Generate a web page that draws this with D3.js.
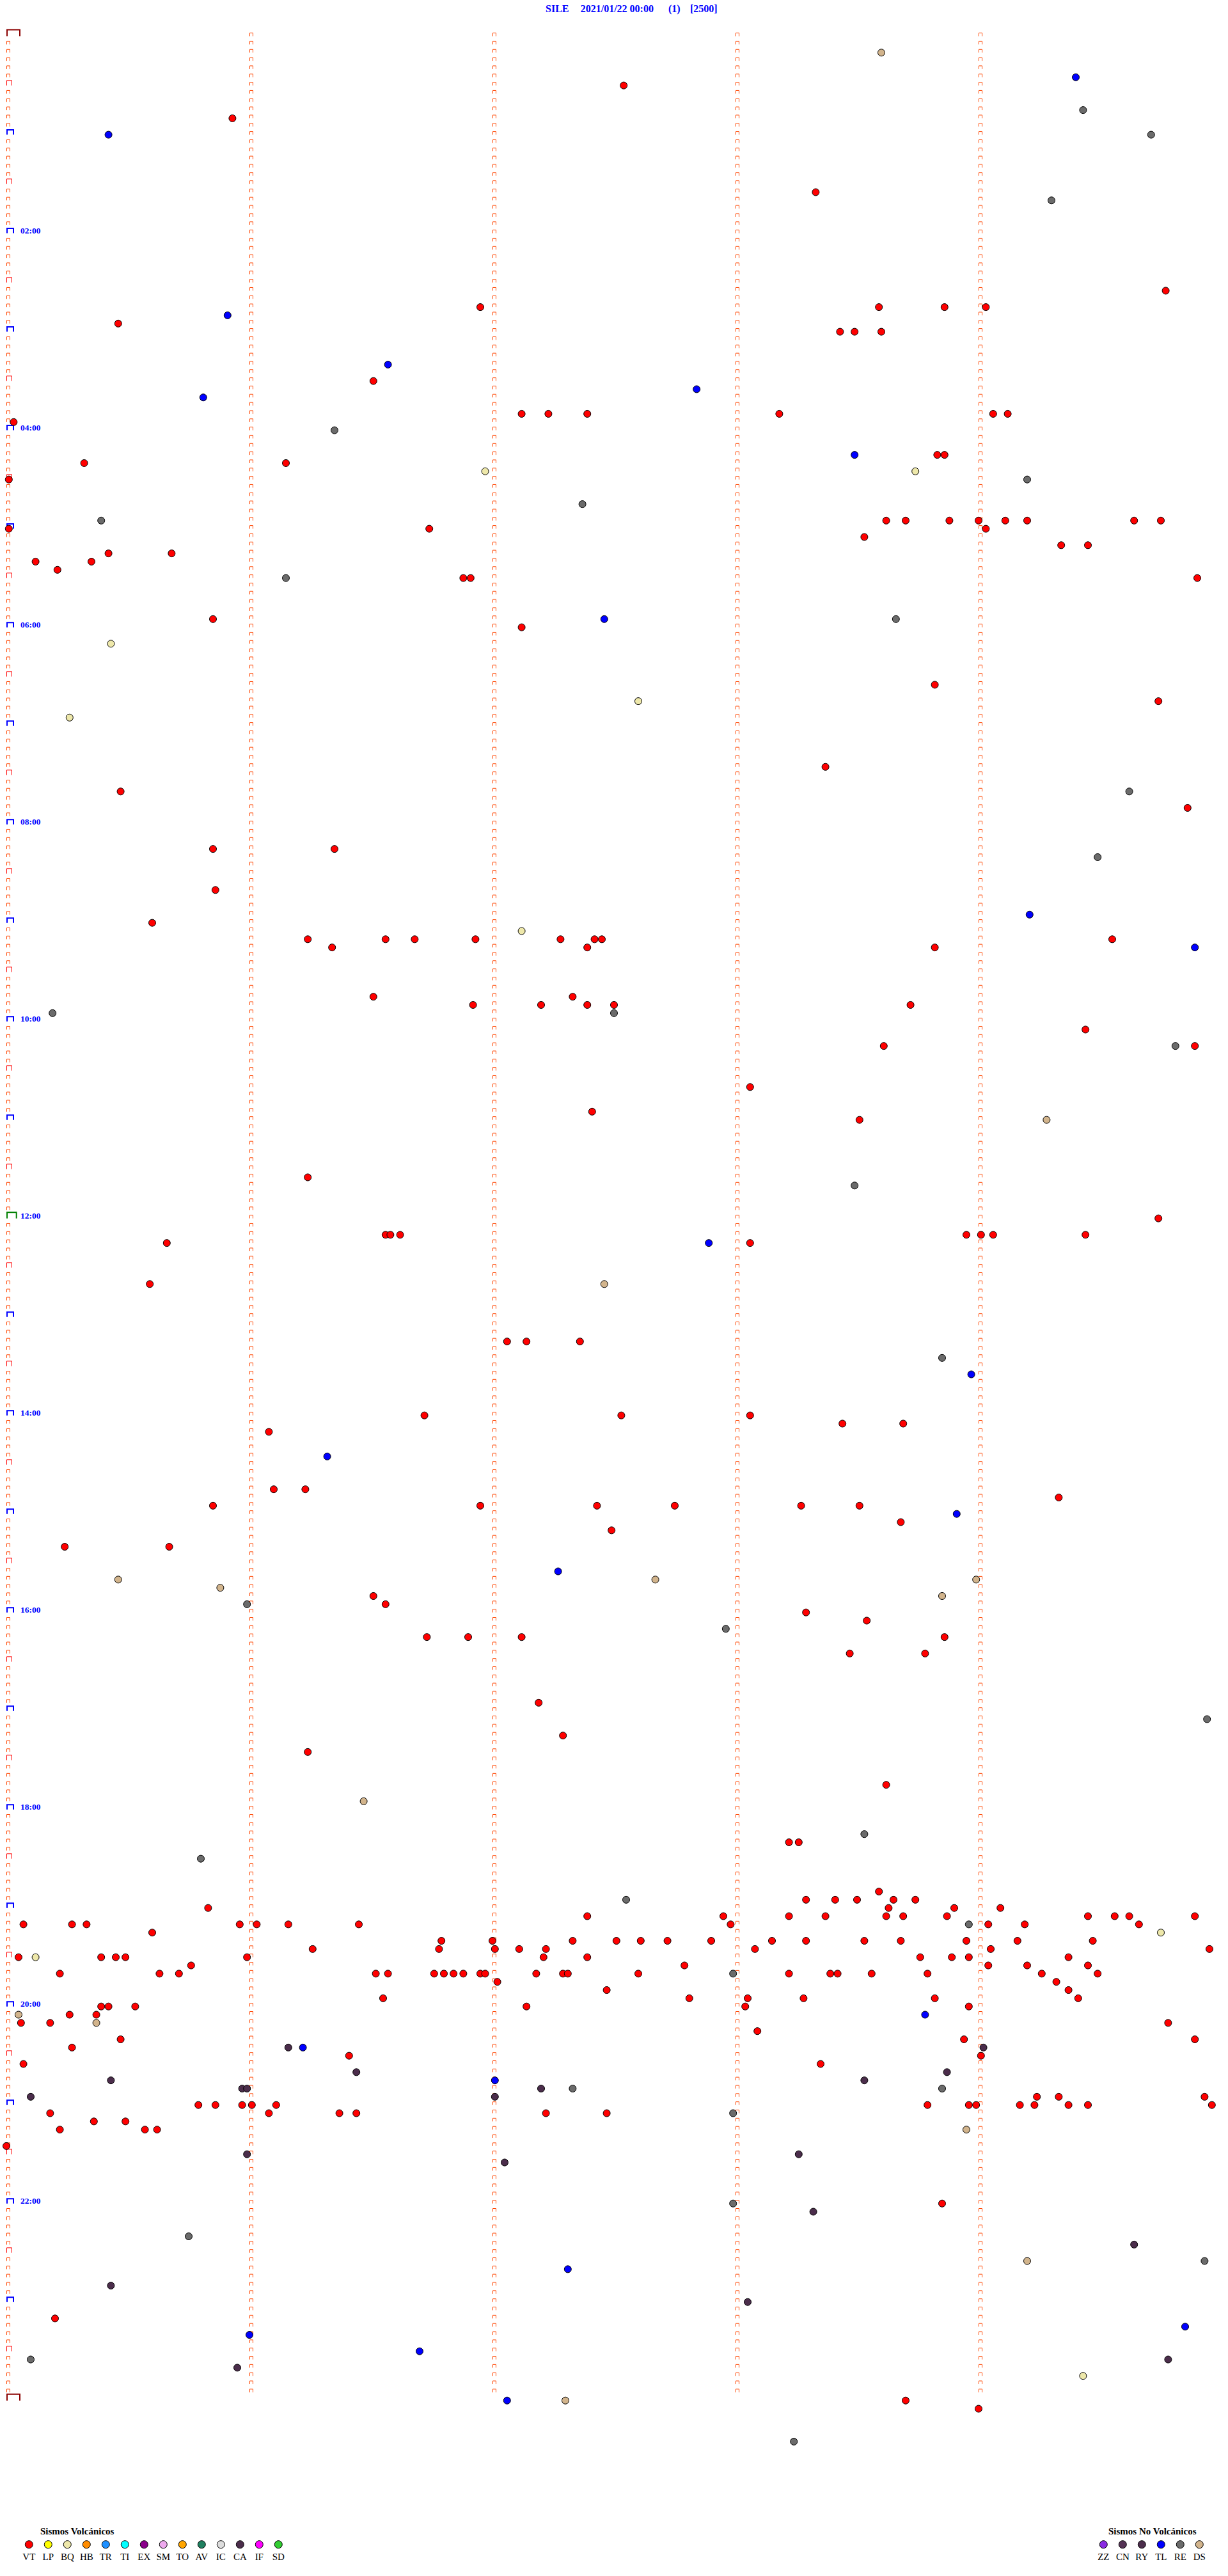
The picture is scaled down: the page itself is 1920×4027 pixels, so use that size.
<!DOCTYPE html>
<html>
<head>
<meta charset="utf-8">
<script src="https://cdn.jsdelivr.net/npm/d3@7"></script>
<style>
html,body{margin:0;padding:0;background:#fff;}
svg{display:block;}
</style>
</head>
<body>
<svg id="chart" width="1920" height="4027"></svg>
<script>
// ---------------- DATA ----------------
const stationTitle = ["SILE", "2021/01/22 00:00", "(1)", "[2500]"];
const rowMinutes = 5;          // minutes per helicorder line
const totalRows = 288;         // 24 h
const hourLabels = ["02:00","04:00","06:00","08:00","10:00","12:00","14:00","16:00","18:00","20:00","22:00"];

// event times, minutes after 00:00
const vtTimes = [32.54,50.93,98.33,159.77,166.95,168.59,168.86,169.03,175.46,183.43,183.49,183.60,211.51,232.12,232.23,232.39,233.18,234.06,234.12,235.03,258.83,258.86,260.32,261.15,270.01,298.62,298.70,298.88,299.00,299.11,299.20,299.64,299.75,300.01,301.74,304.03,308.53,314.34,314.45,315.42,315.68,320.12,320.35,325.21,331.88,331.91,334.90,355.85,362.12,398.82,409.74,448.37,460.47,474.86,495.85,496.35,520.86,540.60,551.24,551.56,551.68,551.93,552.28,552.42,552.45,554.55,556.34,557.39,558.82,586.51,587.33,591.92,592.20,592.39,592.50,593.72,609.44,618.61,619.89,643.06,657.41,663.51,696.24,724.74,731.56,731.58,731.62,733.95,734.01,734.06,734.44,735.66,738.06,760.59,797.06,797.14,797.36,841.72,842.53,843.06,848.44,848.69,851.08,886.10,886.23,894.33,895.85,896.95,897.43,897.75,898.27,898.51,908.68,912.49,920.24,920.67,951.51,956.56,963.29,968.54,976.73,976.90,977.12,978.86,988.47,988.78,1017.19,1037.29,1046.24,1068.62,1103.22,1103.26,1133.59,
1138.29,1138.41,1138.50,1138.65,1138.74,1140.83,1143.63,1143.90,1144.09,1147.39,1147.95,1148.22,1148.37,1148.62,1148.69,1148.87,1149.45,1149.56,1149.62,1149.89,1150.07,1150.27,1150.33,1150.96,1151.03,1151.16,1151.45,1152.98,1154.04,1154.19,1154.66,1155.60,1161.79,1162.00,1162.33,1162.51,1162.61,1162.72,1162.90,1163.15,1163.29,1163.53,1163.68,1163.95,1164.16,1164.47,1166.26,1166.78,1167.01,1167.11,1167.22,1168.08,1169.05,1169.95,1170.05,1170.39,1170.45,1170.49,1170.99,1172.21,1172.39,1173.76,1173.89,1173.96,1174.37,1175.76,1177.79,1179.04,1179.20,1179.45,1180.22,1180.63,1180.71,1181.52,1181.57,1181.76,1181.80,1181.84,1181.88,1181.95,1181.97,1182.18,1182.29,1182.31,1182.60,1183.22,1183.39,1183.42,1183.56,1183.79,1184.26,1184.49,1187.02,1189.32,1192.47,1194.37,1196.55,1197.81,1198.05,1198.28,1198.82,1199.41,1200.39,1200.42,1200.53,1202.14,1203.04,1203.96,1205.26,1205.37,1210.06,1210.18,1214.78,1218.09,1220.47,1223.94,1224.89,1225.27,1231.41,1234.01,1235.07,1238.35,1259.24,1259.33,1259.93,1260.79,1260.86,1260.97,1261.01,1261.11,1263.79,1263.96,1263.99,1264.17,1264.23,1264.37,1264.45,1264.96,1265.18,1266.08,1266.37,1266.44,1267.22,1267.47,1270.36,1270.49,1275.22,1275.57,1275.62,1285.00,1323.85,1390.20,1443.70,1449.00];
const tlTimes = [29.40,60.42,170.91,201.57,217.84,220.81,258.49,357.46,539.21,559.89,737.89,818.97,866.32,903.91,937.27,1208.78,1226.22,1247.01,1362.31,1399.85,1401.00,1411.70,1442.06];
const reTimes = [49.43,64.71,104.30,241.35,274.20,287.37,295.39,331.15,358.66,464.62,504.49,595.19,597.50,619.81,703.49,808.85,955.99,972.96,1029.94,1098.53,1110.80,1137.55,1153.96,1182.99,1252.33,1253.85,1267.99,1322.99,1340.75,1359.93,1415.10,1468.24];
const dsTimes = [13.60,664.28,762.46,940.46,942.67,943.99,945.88,953.85,1076.47,1205.05,1210.37,1278.95,1359.20,1442.30];
const bqTimes = [266.97,268.74,370.43,407.60,415.26,547.12,1159.75,1170.12,1429.43];
const caTimes = [1226.16,1229.02,1241.44,1243.87,1245.43,1248.53,1250.97,1250.99,1252.20,1255.10,1257.01,1290.99,1293.26,1297.05,1328.32,1349.64,1370.43,1383.05,1419.78,1420.95];

const volcanicCodes = ["VT","LP","BQ","HB","TR","TI","EX","SM","TO","AV","IC","CA","IF","SD"];
const volcanicColors = ["#ff0000","#ffff00","#eee8aa","#ff8c00","#1e90ff","#00ffff","#8b008b","#eeaaee","#ffa500","#1f7f5f","#dcdcdc","#4b2d4b","#ff00ff","#32cd32"];
const nonVolcanicCodes = ["ZZ","CN","RY","TL","RE","DS"];
const nonVolcanicColors = ["#8a2be2","#553355","#4b2d4b","#0000ff","#6b6b6b","#d2b48c"];

// ---------------- CHART ----------------
const svg = d3.select("#chart");
svg.append("rect").attr("width",1920).attr("height",4027).attr("fill","#fff");

const serif = "'Liberation Serif','Times New Roman',serif";
const y = d3.scaleLinear().domain([0,totalRows]).range([56.6,3752.7]);
const x = d3.scaleLinear().domain([0,rowMinutes]).range([10,1910]);

// title
const titleX = [853,907.7,1045,1079];
svg.selectAll("text.title").data(stationTitle).enter().append("text")
  .attr("class","title").attr("x",(d,i)=>titleX[i]).attr("y",18.5)
  .attr("font-family",serif).attr("font-weight","bold").attr("font-size",16)
  .attr("fill","#0000ff").text(d=>d);

// minute marks
const rows = d3.range(0,totalRows+1);
const marks = [];
rows.forEach(r=>{
  // column 0 (minute 0)
  let type="min";
  if(r===0||r===totalRows) type="day";
  else if(r===totalRows/2) type="noon";
  else if(r%12===0) type="hour";
  else if(r%6===0) type="half";
  marks.push({row:r,col:0,type});
  if(r<totalRows){ for(let c=1;c<rowMinutes;c++) marks.push({row:r,col:c,type:"min"}); }
});
const markStyle = {
  min:{w:5,h:5,sw:1,color:"#ff4500"},
  half:{w:8,h:7.8,sw:1,color:"#ff0000"},
  hour:{w:10,h:7.5,sw:2,color:"#0000ff"},
  noon:{w:14.7,h:9.5,sw:2,color:"#008000"},
  day:{w:20,h:10,sw:2,color:"#8b0000"}
};
svg.append("g").selectAll("path").data(marks).enter().append("path")
  .attr("d",d=>{
    const s=markStyle[d.type];
    const off = s.sw===1?0.5:1;
    const x0 = x(d.col)+off, b=y(d.row);
    return `M${x0},${b} V${b-s.h} H${x0+s.w} V${b}`;
  })
  .attr("fill","none")
  .attr("stroke",d=>markStyle[d.type].color)
  .attr("stroke-width",d=>markStyle[d.type].sw);

// hour labels
svg.append("g").selectAll("text").data(hourLabels).enter().append("text")
  .attr("x",32).attr("y",(d,i)=>y((i+1)*24))
  .attr("font-family",serif).attr("font-weight","bold").attr("font-size",13.5)
  .attr("fill","#0000ff").text(d=>d);

// events
const events = [];
const addEv=(arr,color)=>arr.forEach(t=>events.push({t,color}));
addEv(reTimes,"#6b6b6b");
addEv(dsTimes,"#d2b48c");
addEv(bqTimes,"#eee8aa");
addEv(caTimes,"#4b2d4b");
addEv(tlTimes,"#0000ff");
addEv(vtTimes,"#ff0000");
svg.append("g").selectAll("circle").data(events).enter().append("circle")
  .attr("cx",d=>{const r=Math.floor(d.t/rowMinutes+1e-9);return x(Math.max(0,d.t-r*rowMinutes));})
  .attr("cy",d=>y(Math.floor(d.t/rowMinutes+1e-9)))
  .attr("r",5.5).attr("fill",d=>d.color).attr("stroke","#000").attr("stroke-width",1);

// legends
function legend(title,titleX,codes,colors,x0){
  const g=svg.append("g");
  g.append("text").attr("x",titleX).attr("y",3961.7)
    .attr("font-family",serif).attr("font-weight","bold").attr("font-size",15)
    .attr("fill","#000").text(title);
  const lx=d3.scalePoint().domain(codes).range([x0,x0+30*(codes.length-1)]);
  g.selectAll("circle").data(codes).enter().append("circle")
    .attr("cx",d=>lx(d)).attr("cy",3977.7).attr("r",6)
    .attr("fill",(d,i)=>colors[i]).attr("stroke","#000").attr("stroke-width",1);
  g.selectAll("text.lab").data(codes).enter().append("text").attr("class","lab")
    .attr("x",d=>lx(d)).attr("y",4001.7).attr("text-anchor","middle")
    .attr("font-family",serif).attr("font-size",15).attr("fill","#000").text(d=>d);
}
legend("Sismos Volcánicos",63,volcanicCodes,volcanicColors,45.3);
legend("Sismos No Volcánicos",1733,nonVolcanicCodes,nonVolcanicColors,1725.3);
</script>
</body>
</html>
